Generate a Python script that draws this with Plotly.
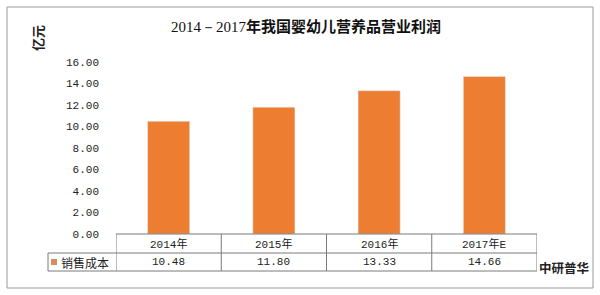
import plotly.graph_objects as go

categories = ["2014年", "2015年", "2016年", "2017年E"]
values = [10.48, 11.80, 13.33, 14.66]
value_labels = ["10.48", "11.80", "13.33", "14.66"]
series_name = "销售成本"
title_num = "2014－2017"
title_cn = "年我国婴幼儿营养品营业利润"
unit = "亿元"
source = "中研普华"

BAR = "#ED7D31"
LINE = "#7a7a7a"
MONO = "Liberation Mono, DejaVu Sans Mono, monospace"
CJK = "Noto Sans CJK SC, sans-serif"

W, H = 600, 295
L, R, T, B = 116, 63, 62, 61
pw, ph = W - L - R, H - T - B

def px(x):
    return (x - L) / pw

def py(y):
    return (H - B - y) / ph

fig = go.Figure()
fig.add_trace(go.Bar(x=list(range(len(categories))), y=values, marker_color=BAR,
                     width=0.4, name=series_name, showlegend=False))

shapes = []
n = len(categories)
# outer border
shapes.append(dict(type="rect", xref="paper", yref="paper", x0=px(7), x1=px(593),
                   y0=py(288), y1=py(7), line=dict(color="#9a9a9a", width=1)))
row1, row2 = py(253), py(271)
# table horizontal lines
shapes.append(dict(type="line", xref="x", yref="paper", x0=-0.5, x1=n - 0.5, y0=0, y1=0,
                   line=dict(color=LINE, width=1)))
shapes.append(dict(type="line", xref="paper", yref="paper", x0=px(48), x1=1, y0=row1, y1=row1,
                   line=dict(color=LINE, width=1)))
shapes.append(dict(type="line", xref="paper", yref="paper", x0=px(48), x1=1, y0=row2, y1=row2,
                   line=dict(color=LINE, width=1)))
for i in range(n + 1):
    shapes.append(dict(type="line", xref="x", yref="paper", x0=i - 0.5, x1=i - 0.5, y0=0, y1=row2,
                       line=dict(color=LINE, width=1)))
shapes.append(dict(type="line", xref="paper", yref="paper", x0=px(48), x1=px(48), y0=row1, y1=row2,
                   line=dict(color=LINE, width=1)))
# legend square
shapes.append(dict(type="rect", xref="paper", yref="paper", x0=px(51), x1=px(57),
                   y0=py(265), y1=py(259), fillcolor="#D38E5A", line=dict(width=0)))

ann = []
C = dict(xanchor="center", yanchor="middle", showarrow=False)
for i, (c, v) in enumerate(zip(categories, value_labels)):
    ann.append(dict(x=i, y=py(244), xref="x", yref="paper", text=c, **C,
                    font=dict(family=MONO + ", " + CJK, size=11, color="#222")))
    ann.append(dict(x=i, y=py(262), xref="x", yref="paper", text=v, **C,
                    font=dict(family=MONO, size=11, color="#222")))
ann.append(dict(x=px(59), y=py(262), xref="paper", yref="paper", text=series_name,
                showarrow=False, xanchor="left", yanchor="middle",
                font=dict(family=CJK, size=12, color="#222")))
ann.append(dict(x=px(537), y=py(267), xref="paper", yref="paper", text="<b>" + source + "</b>",
                showarrow=False, xanchor="left", yanchor="middle",
                font=dict(family=CJK, size=12.5, color="#222")))
ann.append(dict(x=px(37), y=py(38), xref="paper", yref="paper", text="<b>" + unit + "</b>",
                textangle=-90, **C, font=dict(family=CJK, size=13, color="#222")))
ann.append(dict(x=px(306), y=py(25), xref="paper", yref="paper",
                text="<span style='font-family:Liberation Serif'>" + title_num + "</span><b>" + title_cn + "</b>",
                **C, font=dict(family=CJK, size=15, color="#111")))

fig.update_layout(
    width=W, height=H, margin=dict(l=L, r=R, t=T, b=B),
    paper_bgcolor="white", plot_bgcolor="white",
    shapes=shapes, annotations=ann, bargap=0.6,
    xaxis=dict(range=[-0.5, n - 0.5], showticklabels=False, showgrid=False, zeroline=False,
               showline=False, ticks=""),
    yaxis=dict(range=[0, 16], tickvals=[0, 2, 4, 6, 8, 10, 12, 14, 16], tickformat=".2f",
               showgrid=False, zeroline=False, showline=False, ticks="",
               ticklabelstandoff=16, tickfont=dict(family=MONO, size=11, color="#222")),
)
fig.write_html("out.html")
